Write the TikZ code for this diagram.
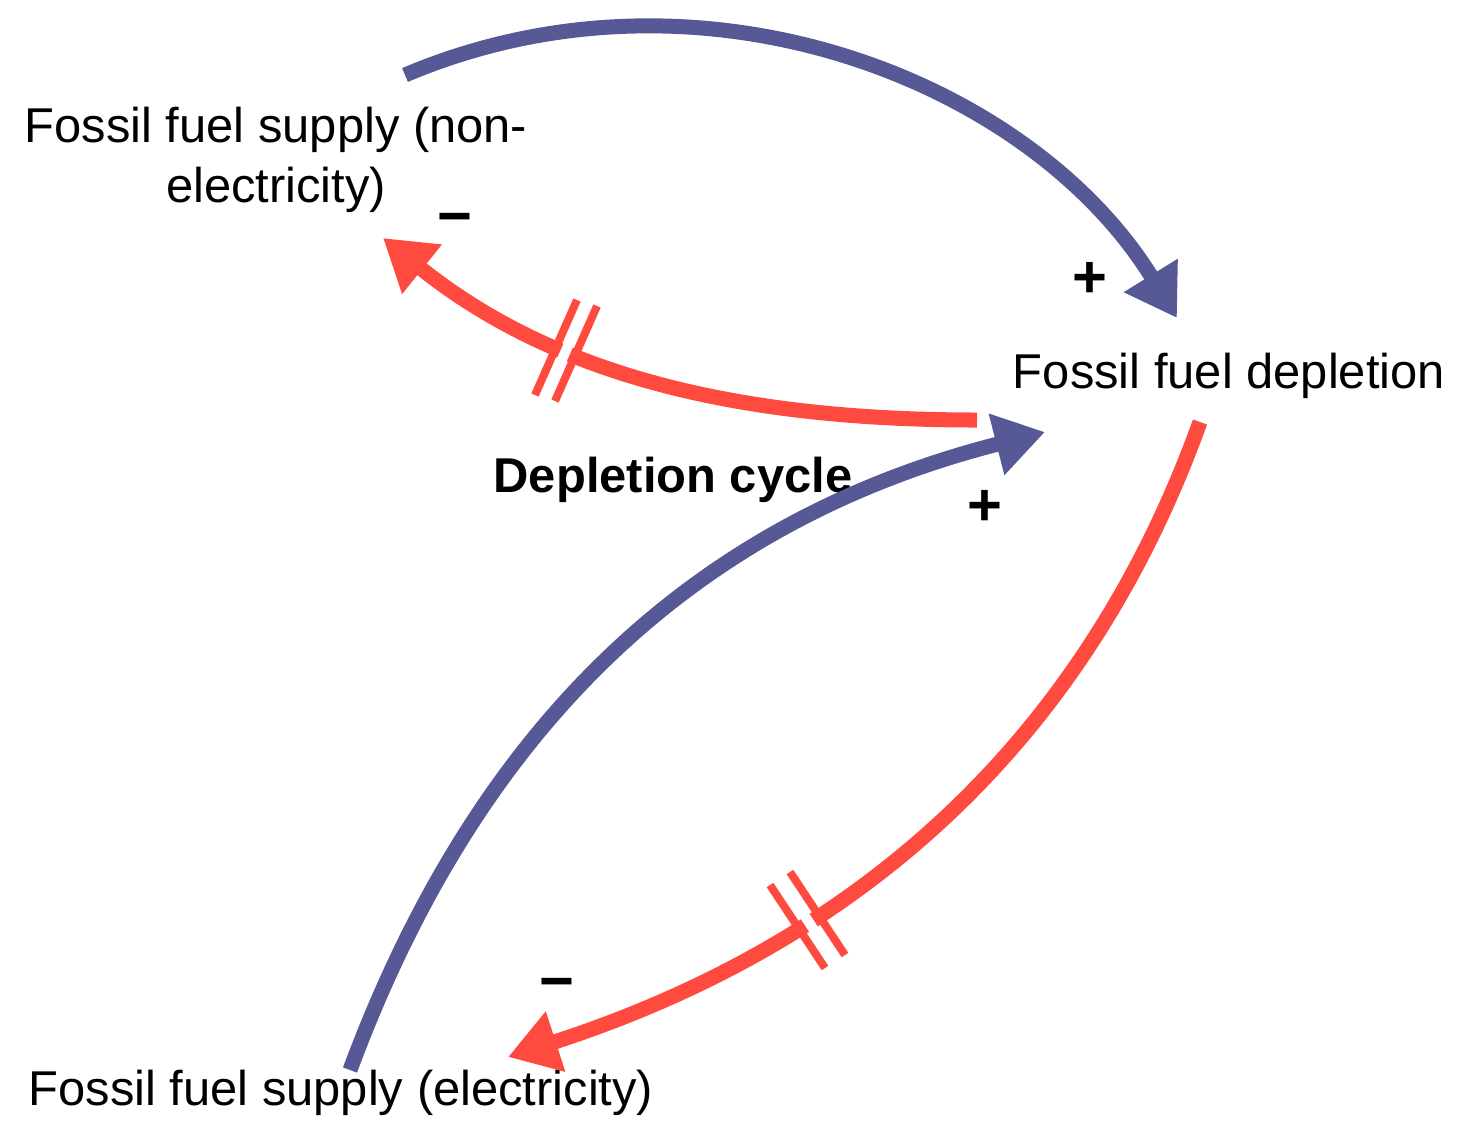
\documentclass[tikz,border=0pt]{standalone}
\usepackage{fontspec}
\setmainfont{Liberation Sans}
\usetikzlibrary{arrows.meta}
\definecolor{pos}{HTML}{4C4F9C}
\definecolor{neg}{HTML}{FF4A3F}
\begin{document}
\begin{tikzpicture}[x=0.01cm,y=-0.01cm,
  lab/.style={font=\fontsize{13.9}{17}\selectfont,inner sep=0pt},
  sgn/.style={font=\fontsize{17}{18}\selectfont\bfseries,inner sep=0pt},
  link/.style={line width=0.15cm,-{Triangle[length=0.5cm,width=0.6cm]}},
  hash/.style={neg,line width=0.08cm}]
\useasboundingbox (0,0) rectangle (1459,1141);
\node[lab,align=center] (nonel) at (276,160) {Fossil fuel supply (non-\\electricity)};
\node[lab] (depl) at (1229,376) {Fossil fuel depletion};
\node[lab] (el) at (341,1093) {Fossil fuel supply (electricity)};
\node[lab,font=\fontsize{13.9}{17}\selectfont\bfseries] (cyc) at (673,480) {Depletion cycle};
\coordinate (a1s) at (405,75); \coordinate (a1e) at (1177,318);
\coordinate (a2s) at (977,420); \coordinate (a2e) at (383,238);
\coordinate (a3s) at (350,1070); \coordinate (a3e) at (1045,432);
\coordinate (a4s) at (1200,422); \coordinate (a4e) at (508,1057);
\draw[link,pos!80!gray] (a1s) .. controls (700,-50) and (1030,80) .. (a1e);
\draw[link,neg] (a2s) .. controls (750,420) and (560,380) .. (a2e);
\draw[link,pos!80!gray] (a3s) .. controls (480,720) and (700,520) .. (a3e);
\draw[link,neg] (a4s) .. controls (1100,700) and (900,930) .. (a4e);
% hash marks
\draw[white,line width=0.1cm] (545,398) -- (587,303);
\draw[hash] (535,395) -- (577,300);
\draw[hash] (555,401) -- (597,306);
\draw[white,line width=0.1cm] (780,878) -- (835,962);
\draw[hash] (770,885) -- (825,968);
\draw[hash] (790,872) -- (845,955);
\node[sgn] (p1) at (1090,280) {+};
\node[sgn] (m1) at (455,225) {\textminus};
\node[sgn] (p2) at (985,508) {+};
\node[sgn] (m2) at (557,990) {\textminus};
\end{tikzpicture}
\end{document}
